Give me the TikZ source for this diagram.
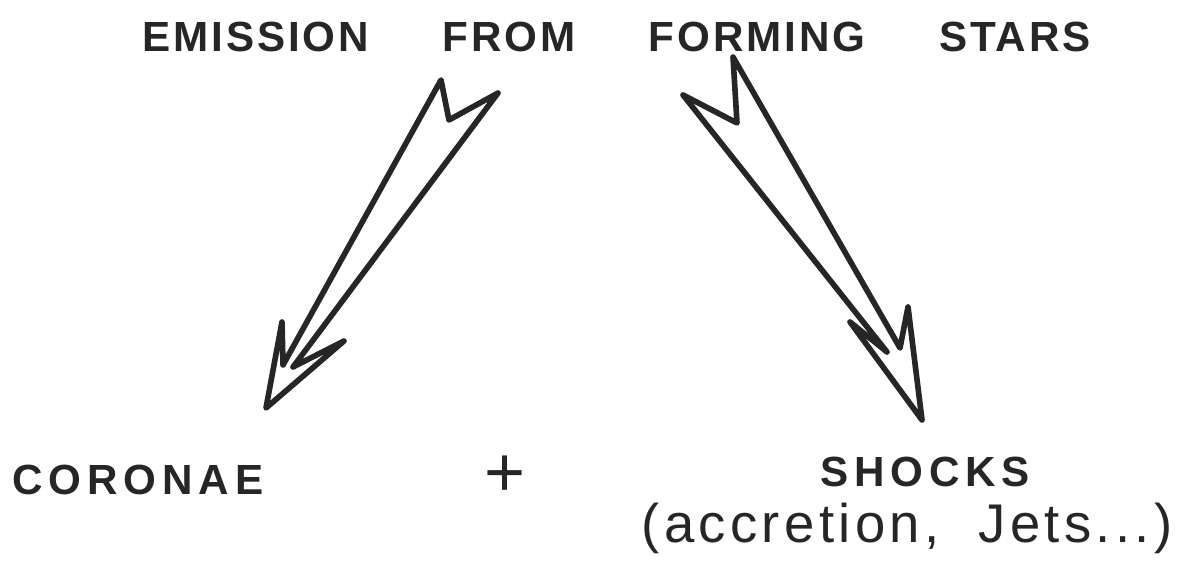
\documentclass[tikz,border=0pt]{standalone}
\usepackage{fontspec}
\newfontfamily\titlefont[LetterSpace=7,WordSpace=5]{Liberation Sans}
\newfontfamily\handfont[LetterSpace=14]{Liberation Sans}
\newfontfamily\notefont[LetterSpace=8,WordSpace=2]{Liberation Sans}
\usetikzlibrary{positioning}

\begin{document}
\begin{tikzpicture}[
  hand/.style={inner sep=0pt, text=black!85, font=\handfont\bfseries\fontsize{24}{28}\selectfont},
  note/.style={inner sep=0pt, text=black!85, font=\notefont\fontsize{31}{36}\selectfont},
  bigarrow/.style={draw=black!85, line width=3.2pt, line join=round, line cap=round}]
\useasboundingbox (0,0) rectangle (23.74,11.44);
\node[hand, font=\titlefont\bfseries\fontsize{24}{28}\selectfont] (title) at (12.33,10.70) {EMISSION FROM FORMING STARS};
\node[hand, anchor=west] (coronae) at (0.24,1.84) {CORONAE};
\node[hand, font=\handfont\fontsize{40}{44}\selectfont] (plus) at (10.10,1.92) {+};
\node[hand] (shocks) at (18.50,2.00) {SHOCKS};
\node[note, below=0.3cm of shocks, xshift=-0.36cm] (detail) {(accretion, Jets...)};
% left arrow: title down to coronae
\coordinate (ltail) at (8.98,9.04);
\coordinate (ltip) at (5.32,3.28);
\draw[bigarrow] (8.82,9.84) -- (ltail) -- (9.96,9.58) -- (5.86,4.10) -- (6.88,4.62)
  -- (ltip) -- (5.64,5.00) -- (5.66,4.14) -- cycle;
% right arrow: title down to shocks
\coordinate (rtail) at (14.74,8.98);
\coordinate (rtip) at (18.44,3.04);
\draw[bigarrow] (13.66,9.54) -- (rtail) -- (14.66,10.30) -- (18.00,4.48) -- (18.16,5.30)
  -- (rtip) -- (17.00,5.00) -- (17.74,4.40) -- cycle;
\end{tikzpicture}
\end{document}
